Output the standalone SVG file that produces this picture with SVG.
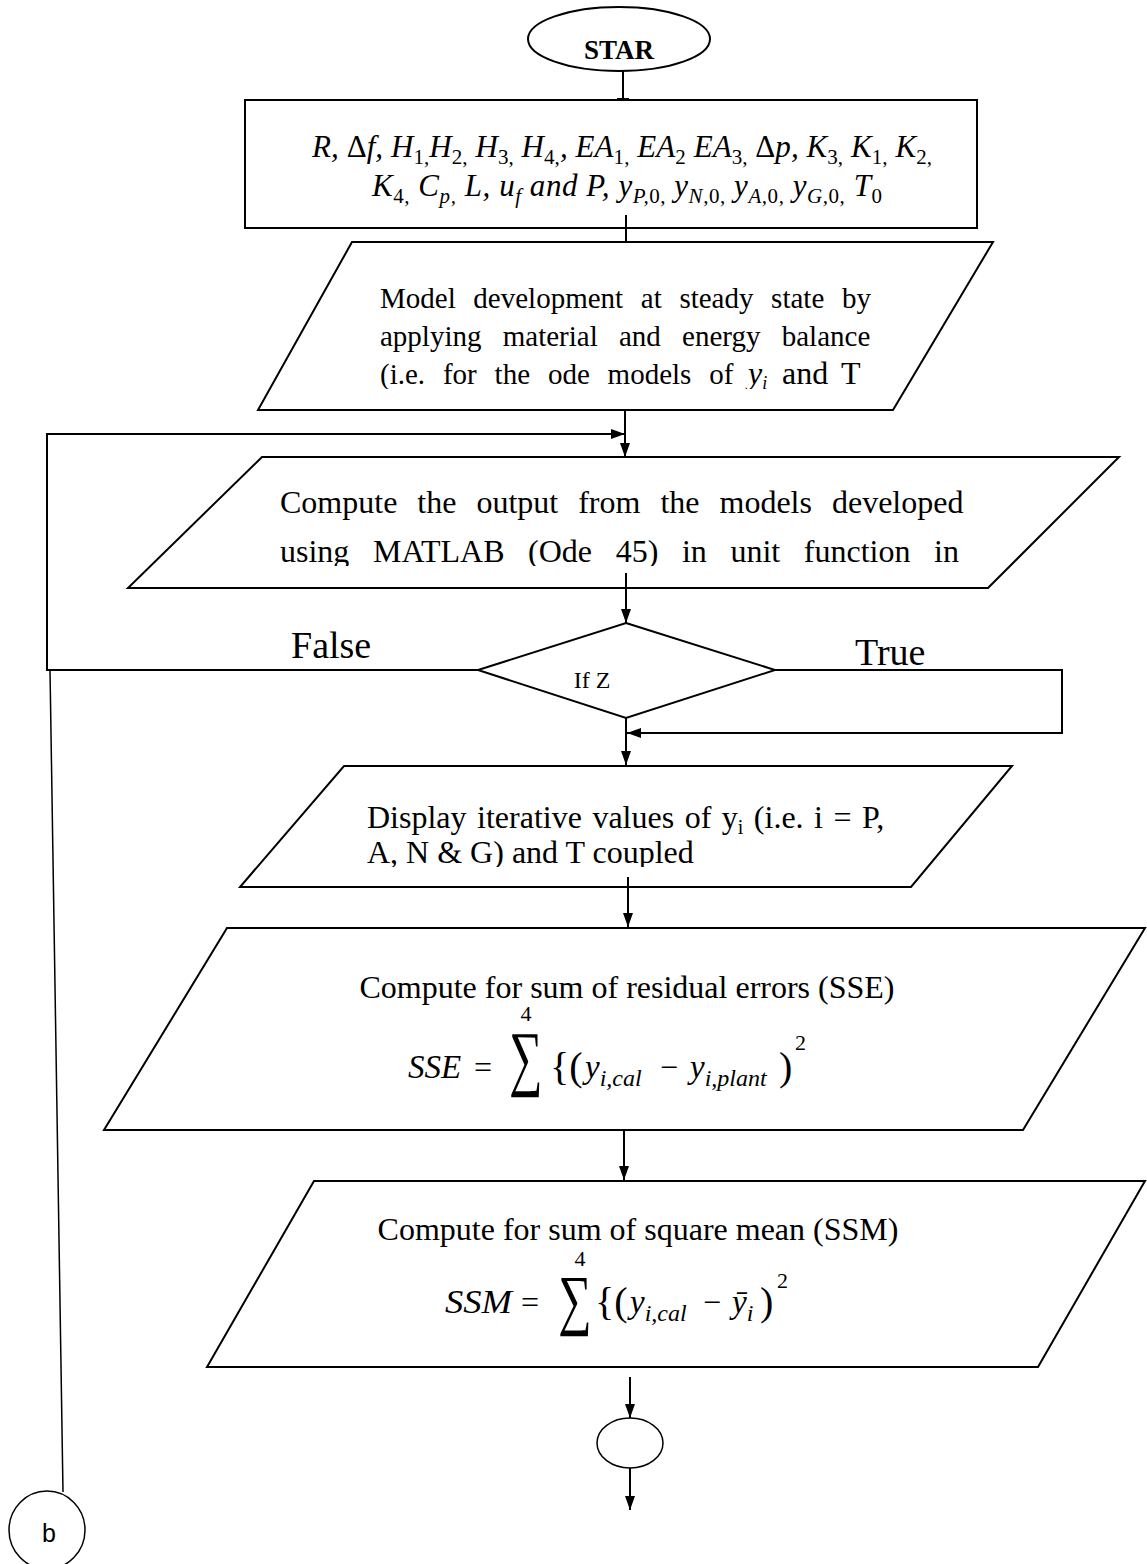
<svg xmlns="http://www.w3.org/2000/svg" width="1147" height="1564" viewBox="0 0 1147 1564">
<style>
.s{fill:#fff;stroke:#000;stroke-width:2}
.c{fill:none;stroke:#000;stroke-width:2}
.thin{fill:none;stroke:#000;stroke-width:1.5}
.t{font-family:"Liberation Serif","Times New Roman",serif;fill:#000}
.m{font-family:"Liberation Serif","Times New Roman",serif;font-style:italic;fill:#000}
.sb{font-size:21px;font-style:normal}
.si{font-size:21px;font-style:italic}
</style>
<defs>
<marker id="ah" viewBox="0 0 14 10" refX="14" refY="5" markerWidth="14" markerHeight="10" markerUnits="userSpaceOnUse" orient="auto"><path d="M0,0 L14,5 L0,10 z" fill="#000"/></marker>
<clipPath id="cp1"><rect x="0" y="240" width="1147" height="149"/></clipPath>
<clipPath id="cp2"><rect x="0" y="455" width="1147" height="111"/></clipPath>
<clipPath id="cp3"><rect x="0" y="764" width="1147" height="103"/></clipPath>
</defs>

<g id="start">
<ellipse class="s" cx="619" cy="39" rx="91" ry="32"/>
<text class="t" x="619" y="59" font-size="27" font-weight="bold" text-anchor="middle">STAR</text>
</g>

<g id="inputs">
<rect class="s" x="245" y="100" width="732" height="128"/>
<text class="m" x="312" y="157" font-size="31" textLength="620" lengthAdjust="spacing">R, <tspan font-style="normal">Δ</tspan>f, H<tspan class="sb" baseline-shift="-7">1,</tspan>H<tspan class="sb" baseline-shift="-7">2,</tspan> H<tspan class="sb" baseline-shift="-7">3,</tspan> H<tspan class="sb" baseline-shift="-7">4,</tspan>, EA<tspan class="sb" baseline-shift="-7">1,</tspan> EA<tspan class="sb" baseline-shift="-7">2</tspan> EA<tspan class="sb" baseline-shift="-7">3,</tspan> <tspan font-style="normal">Δ</tspan>p, K<tspan class="sb" baseline-shift="-7">3,</tspan> K<tspan class="sb" baseline-shift="-7">1,</tspan> K<tspan class="sb" baseline-shift="-7">2,</tspan></text>
<text class="m" x="372" y="196" font-size="31" textLength="510" lengthAdjust="spacing">K<tspan class="sb" baseline-shift="-7">4,</tspan> C<tspan class="si" baseline-shift="-7">p,</tspan> L, u<tspan class="si" baseline-shift="-7">f</tspan> and P, y<tspan class="si" baseline-shift="-7">P,</tspan><tspan class="sb" baseline-shift="-7">0,</tspan> y<tspan class="si" baseline-shift="-7">N,</tspan><tspan class="sb" baseline-shift="-7">0,</tspan> y<tspan class="si" baseline-shift="-7">A,</tspan><tspan class="sb" baseline-shift="-7">0,</tspan> y<tspan class="si" baseline-shift="-7">G,</tspan><tspan class="sb" baseline-shift="-7">0,</tspan> T<tspan class="sb" baseline-shift="-7">0</tspan></text>
</g>

<g id="model">
<polygon class="s" points="352,242 993,242 893,410 258,410"/>
<g clip-path="url(#cp1)">
<text class="t" x="380" y="308" font-size="29" word-spacing="10.4">Model development at steady state by</text>
<text class="t" x="380" y="346" font-size="29" word-spacing="14">applying material and energy balance</text>
<text class="t" x="380" y="384" font-size="29" word-spacing="10.6">(i.e. for the ode models of</text>
<text class="m" x="748" y="384" font-size="32">y<tspan font-size="18" baseline-shift="-5">i</tspan></text>
<text class="t" x="782" y="384" font-size="32">and</text>
<text class="t" x="841" y="384" font-size="32">T</text>
</g>
</g>

<g id="compute">
<polygon class="s" points="262,457 1119,457 988,588 128,588"/>
<g clip-path="url(#cp2)">
<text class="t" x="280" y="513" font-size="32" word-spacing="12">Compute the output from the models developed</text>
<text class="t" x="280" y="562" font-size="32" word-spacing="15.6">using MATLAB (Ode 45) in unit function in</text>
</g>
</g>

<g id="decision">
<polygon class="s" points="626,623 775,670 626,718 478,670"/>
<text class="t" x="592" y="688" font-size="24" text-anchor="middle">If Z</text>
</g>

<g id="display">
<polygon class="s" points="344,766 1012,766 911,887 240,887"/>
<g clip-path="url(#cp3)">
<text class="t" x="367" y="828" font-size="32" word-spacing="2.5">Display iterative values of y<tspan font-size="20" baseline-shift="-6">i</tspan> (i.e. i = P,</text>
<text class="t" x="367" y="863" font-size="32">A, N &amp; G) and T coupled</text>
</g>
</g>

<g id="sse">
<polygon class="s" points="227,928 1145,928 1023,1130 104,1130"/>
<text class="t" x="627" y="998" font-size="32" text-anchor="middle">Compute for sum of residual errors (SSE)</text>
<text class="m" x="408" y="1078" font-size="33">SSE</text>
<text class="t" x="474" y="1078" font-size="32">=</text>
<text class="t" x="526" y="1021" font-size="22" text-anchor="middle">4</text>
<text class="t" transform="translate(526,1082) scale(0.9,1.4)" font-size="52" text-anchor="middle">∑</text>
<text class="t" x="550" y="1080" font-size="40">{(</text>
<text class="m" x="585" y="1078" font-size="33">y<tspan font-size="24" baseline-shift="-8">i,cal</tspan></text>
<text class="t" x="660" y="1078" font-size="32">−</text>
<text class="m" x="690" y="1078" font-size="33">y<tspan font-size="24" baseline-shift="-8">i,plant</tspan></text>
<text class="t" x="779" y="1080" font-size="40">)</text>
<text class="t" x="795" y="1050" font-size="22">2</text>
</g>

<g id="ssm">
<polygon class="s" points="314,1181 1145,1181 1038,1367 207,1367"/>
<text class="t" x="638" y="1240" font-size="32" text-anchor="middle">Compute for sum of square mean (SSM)</text>
<text class="m" x="445" y="1313" font-size="33" textLength="67" lengthAdjust="spacingAndGlyphs">SSM</text>
<text class="t" x="521" y="1313" font-size="32">=</text>
<text class="t" x="580" y="1266" font-size="22" text-anchor="middle">4</text>
<text class="t" transform="translate(575,1322) scale(0.9,1.3)" font-size="52" text-anchor="middle">∑</text>
<text class="t" x="595" y="1315" font-size="40">{(</text>
<text class="m" x="630" y="1313" font-size="33">y<tspan font-size="24" baseline-shift="-8">i,cal</tspan></text>
<text class="t" x="703" y="1313" font-size="32">−</text>
<text class="m" x="732" y="1313" font-size="33">ȳ<tspan font-size="24" baseline-shift="-8">i</tspan></text>
<text class="t" x="760" y="1315" font-size="40">)</text>
<text class="t" x="777" y="1288" font-size="22">2</text>
</g>

<g id="connector">
<ellipse class="thin" cx="630" cy="1443" rx="33" ry="25"/>
</g>

<g id="b">
<ellipse class="thin" cx="47" cy="1530" rx="38" ry="39"/>
<text x="49" y="1542" font-family="Liberation Sans, Arial, sans-serif" font-size="25" text-anchor="middle">b</text>
</g>

<g id="labels">
<text class="t" x="291" y="658" font-size="38">False</text>
<text class="t" x="855" y="665" font-size="38">True</text>
</g>

<g id="connectors">
<line class="c" x1="623" y1="71" x2="623" y2="100"/>
<line class="c" x1="617" y1="99" x2="629" y2="99"/>
<line class="c" x1="626" y1="215" x2="626" y2="242"/>
<line class="c" x1="625" y1="410" x2="625" y2="457" marker-end="url(#ah)"/>
<polyline class="c" points="478,670 47,670 47,434 625,434" marker-end="url(#ah)"/>
<line class="thin" x1="50" y1="670" x2="63" y2="1492"/>
<line class="c" x1="626" y1="573" x2="626" y2="623" marker-end="url(#ah)"/>
<polyline class="c" points="775,670 1062,670 1062,733 627,733" marker-end="url(#ah)"/>
<line class="c" x1="626" y1="718" x2="626" y2="765" marker-end="url(#ah)"/>
<line class="c" x1="628" y1="877" x2="628" y2="927" marker-end="url(#ah)"/>
<line class="c" x1="624" y1="1130" x2="624" y2="1180" marker-end="url(#ah)"/>
<line class="c" x1="630" y1="1377" x2="630" y2="1418" marker-end="url(#ah)"/>
<line class="c" x1="630" y1="1468" x2="630" y2="1510" marker-end="url(#ah)"/>
</g>
</svg>
